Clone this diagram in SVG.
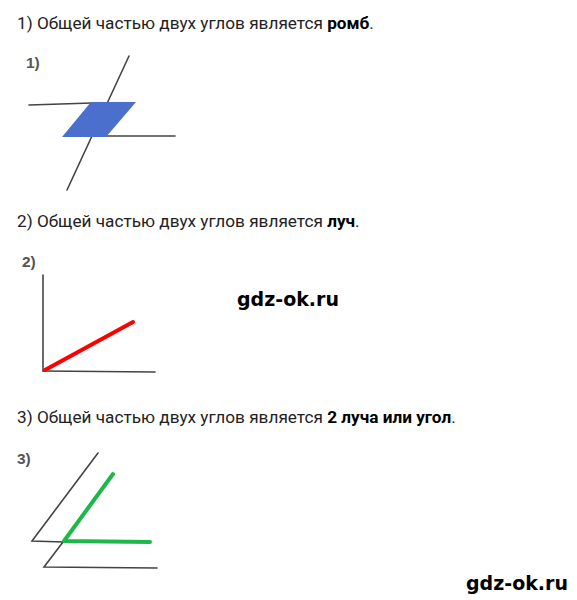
<svg xmlns="http://www.w3.org/2000/svg" width="577" height="600" viewBox="0 0 577 600">
<style>
.t{font-family:Roboto,"Liberation Sans",sans-serif;font-size:17.2px;fill:#222}
.b{font-weight:bold;fill:#000}
.n{font-family:"Liberation Sans",Arial,sans-serif;font-size:15.5px;font-weight:bold;fill:#555}
.w{font-family:"DejaVu Sans",Verdana,sans-serif;font-size:19px;font-weight:bold;fill:#000}
.k{stroke:#444;stroke-width:1.6;fill:none;stroke-linecap:round}
</style>
<rect width="577" height="600" fill="#fff"/>
<text class="t" x="17" y="29">1) Общей частью двух углов является <tspan class="b">ромб</tspan>.</text>
<text class="t" x="17" y="227">2) Общей частью двух углов является <tspan class="b">луч</tspan>.</text>
<text class="t" x="17" y="423">3) Общей частью двух углов является <tspan class="b">2 луча или угол</tspan>.</text>
<g id="fig1">
<text class="n" x="26" y="68">1)</text>
<line class="k" x1="129" y1="56" x2="67" y2="190"/>
<line class="k" x1="29" y1="105" x2="92" y2="103"/>
<line class="k" x1="106" y1="136" x2="175" y2="136"/>
<polygon points="91,102 136,102 106,137 62,137" fill="#4a6fcc"/>
</g>
<g id="fig2">
<text class="n" x="22" y="267">2)</text>
<line class="k" x1="43" y1="275" x2="43" y2="371"/>
<line class="k" x1="43" y1="371" x2="155" y2="372"/>
<line x1="45" y1="370" x2="133" y2="322" stroke="#f00" stroke-width="4" stroke-linecap="round"/>
</g>
<g id="fig3">
<text class="n" x="17" y="464">3)</text>
<polyline class="k" points="98,453 32,541 63,542 44,567 157,568"/>
<polyline points="113,474 64,541 150,542" fill="none" stroke="#1db84a" stroke-width="4" stroke-linecap="round" stroke-linejoin="round"/>
</g>
<text class="w" x="237" y="306">gdz-ok.ru</text>
<text class="w" x="466" y="590">gdz-ok.ru</text>
</svg>
